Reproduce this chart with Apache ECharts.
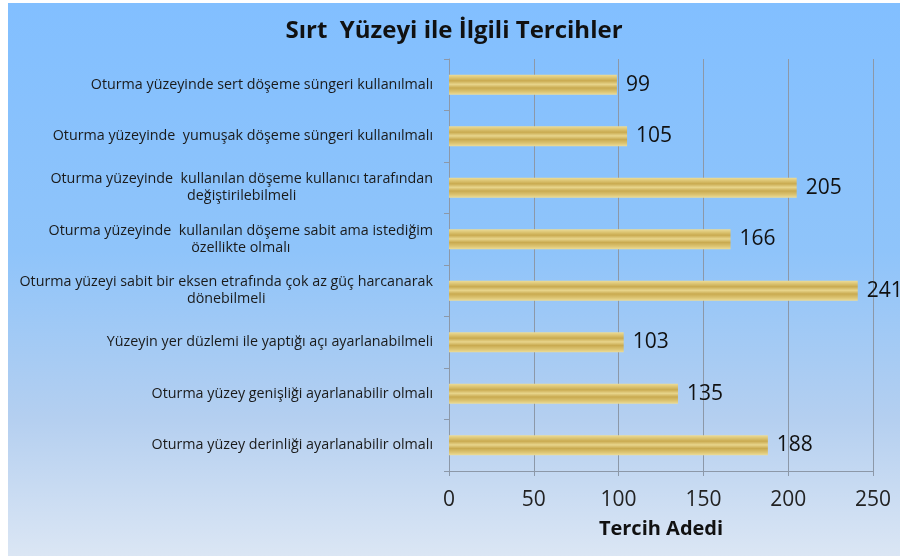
<!DOCTYPE html>
<html>
<head>
<meta charset="utf-8">
<script src="https://cdn.jsdelivr.net/npm/echarts@6/dist/echarts.min.js"></script>
<style>
    html, body { margin: 0; padding: 0; background: #fff; }
    #chart { position: absolute; left: 8px; top: 3px; width: 892px; height: 553px; }
</style>
</head>
<body>
<div id="chart"></div>
<script>
// kategoriler (alttan üste sırasıyla)
var categories = [
    'Oturma yüzey derinliği ayarlanabilir olmalı',
    'Oturma yüzey genişliği ayarlanabilir olmalı',
    'Yüzeyin yer düzlemi ile yaptığı açı ayarlanabilmeli',
    'Oturma yüzeyi sabit bir eksen etrafında çok az güç harcanarak\ndönebilmeli',
    'Oturma yüzeyinde  kullanılan döşeme sabit ama istediğim\nözellikte olmalı',
    'Oturma yüzeyinde  kullanılan döşeme kullanıcı tarafından\ndeğiştirilebilmeli',
    'Oturma yüzeyinde  yumuşak döşeme süngeri kullanılmalı',
    'Oturma yüzeyinde sert döşeme süngeri kullanılmalı'
];
var values = [188, 135, 103, 241, 166, 205, 105, 99];
var xTicks = [0, 50, 100, 150, 200, 250];

var titleText = 'Sırt  Yüzeyi ile İlgili Tercihler';
var axisTitle = 'Tercih Adedi';

(function() {
    var myChart = echarts.init(document.getElementById('chart'));
    var option = {
        backgroundColor: new echarts.graphic.LinearGradient(0, 0, 0, 1, [
            { offset: 0, color: '#82bfff' },
            { offset: 0.45, color: '#8fc4fa' },
            { offset: 0.75, color: '#b4cff0' },
            { offset: 1, color: '#dbe6f4' }
        ]),
        title: {
            text: titleText,
            left: 'center',
            top: 11,
            textStyle: {
                fontFamily: 'Open Sans',
                fontWeight: 'bold',
                fontSize: 24,
                color: '#111'
            }
        },
        grid: {
            left: 441,
            right: 27,
            top: 56,
            bottom: 85
        },
        xAxis: {
            type: 'value',
            min: xTicks[0],
            max: xTicks[xTicks.length - 1],
            interval: 50,
            name: axisTitle,
            nameLocation: 'middle',
            nameGap: 48,
            nameTextStyle: {
                fontFamily: 'Open Sans',
                fontWeight: 'bold',
                fontSize: 20,
                color: '#111'
            },
            axisLine: { show: true, lineStyle: { color: '#8c98a8' } },
            axisTick: { show: true, length: 5, lineStyle: { color: '#8c98a8' } },
            axisLabel: {
                fontFamily: 'Open Sans',
                fontSize: 21,
                color: '#222',
                margin: 19
            },
            splitLine: { show: true, lineStyle: { color: '#8c98a8', width: 1 } }
        },
        yAxis: {
            type: 'category',
            data: categories,
            axisLine: { show: true, lineStyle: { color: '#8c98a8' } },
            axisTick: { show: true, length: 5, lineStyle: { color: '#8c98a8' } },
            axisLabel: {
                margin: 16,
                lineHeight: 17,
                formatter: function(v) {
                    return v.split('\n').map(function(s) {
                        return '{c|' + s + '}';
                    }).join('\n');
                },
                rich: {
                    c: {
                        align: 'center',
                        fontFamily: 'Open Sans',
                        fontSize: 14.3,
                        color: '#1a1a1a',
                        lineHeight: 17
                    }
                }
            }
        },
        series: [{
            type: 'bar',
            data: values,
            barWidth: 20,
            itemStyle: {
                color: new echarts.graphic.LinearGradient(0, 0, 0, 1, [
                    { offset: 0, color: '#ecdc98' },
                    { offset: 0.15, color: '#dcc472' },
                    { offset: 0.3, color: '#c9aa50' },
                    { offset: 0.48, color: '#e8d58c' },
                    { offset: 0.66, color: '#c9aa50' },
                    { offset: 0.85, color: '#dcc472' },
                    { offset: 1, color: '#ecdc98' }
                ])
            },
            label: {
                show: true,
                position: 'right',
                distance: 9,
                fontFamily: 'Open Sans',
                fontSize: 21,
                color: '#111'
            }
        }]
    };
    myChart.setOption(option);
})();
</script>
</body>
</html>
